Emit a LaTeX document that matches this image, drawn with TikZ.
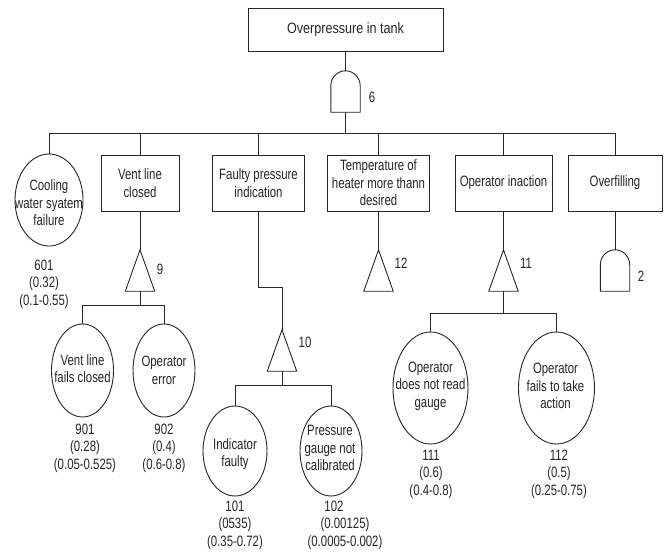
\documentclass[tikz,border=0pt]{standalone}
\usepackage{fontspec}
\usetikzlibrary{shapes.geometric}
\setmainfont{Liberation Sans}[FakeStretch=0.76]
\newfontfamily\headfont{Liberation Sans}[FakeStretch=0.84]

% fault-tree gate outlines drawn on an empty named node
\newcommand\trigate[1]{%
  \draw[line] (#1.south west) -- (#1.north) -- (#1.south east) -- cycle;}
\newcommand\andgate[1]{%
  \draw[line] (#1.south west) -- ([yshift=-15pt]#1.north west)
    .. controls ([yshift=-6.7pt]#1.north west) and ([xshift=-8pt]#1.north) .. (#1.north)
    .. controls ([xshift=8pt]#1.north) and ([yshift=-6.7pt]#1.north east) .. ([yshift=-15pt]#1.north east)
    -- (#1.south east) -- cycle;}

\begin{document}
\begin{tikzpicture}[x=1pt,y=-1pt,
  line/.style={draw=black!85, line width=0.9pt},
  txt/.style={font=\fontsize{15}{17.5}\selectfont, text=black!85, align=center, inner sep=0pt},
  event/.style={txt, draw=black!85, line width=0.9pt, rectangle, minimum height=56pt},
  basic/.style={draw=black!85, line width=0.9pt, ellipse, inner sep=0pt},
  gatebox/.style={inner sep=0pt, minimum width=29pt, minimum height=41pt}
]
\path[fill=white] (0,0) rectangle (665,552);
\useasboundingbox (0,0) rectangle (665,552);

% top event and main AND gate
\node[event, minimum width=195pt, minimum height=43pt,
      font=\headfont\fontsize{15}{17.5}\selectfont] (top) at (345.5,29.5) {Overpressure in tank};
\node[gatebox] (g6) at (345.5,91.5) {};
\andgate{g6}
\node[txt] (l6) at (372,97) {6};
\coordinate (j6) at (345.5,133);
\draw[line] (top.south) -- (g6.north);
\draw[line] (g6.south) -- (j6);

% first level events
\node[basic, minimum width=68pt, minimum height=92pt] (e601) at (49,200) {};
\node[txt] (t601) at (49,203) {Cooling\\water syatem\\failure};
\node[txt] (n601) at (44,284) {601\\(0.32)\\(0.1-0.55)};

\node[event, minimum width=78pt] (vent) at (140,183) {Vent line\\closed};
\node[event, minimum width=92pt] (faulty) at (258.5,183) {Faulty pressure\\indication};
\node[event, minimum width=102pt] (temp) at (378.5,183) {Temperature of\\heater more thann\\desired};
\node[event, minimum width=97pt] (inact) at (503.5,183) {Operator inaction};
\node[event, minimum width=94pt] (overfill) at (615,183) {Overfilling};

\foreach \c in {e601,vent,faulty,temp,inact,overfill}
  \draw[line] (j6) -| (\c.north);

% gates below the first level
\node[gatebox] (g9) at (140,270.5) {};
\trigate{g9}
\node[txt] (l9) at (160,269) {9};

\node[gatebox] (g10) at (282,350.5) {};
\trigate{g10}
\node[txt] (l10) at (305,342) {10};

\node[gatebox] (g12) at (378.5,270.5) {};
\trigate{g12}
\node[txt] (l12) at (401,263) {12};

\node[gatebox] (g11) at (503.5,270.5) {};
\trigate{g11}
\node[txt] (l11) at (526,263) {11};

\node[gatebox] (g2) at (615,270.5) {};
\andgate{g2}
\node[txt] (l2) at (641,276) {2};

\coordinate (k10) at (258.5,287);
\draw[line] (vent.south) -- (g9.north);
\draw[line] (faulty.south) -- (k10) -| (g10.north);
\draw[line] (temp.south) -- (g12.north);
\draw[line] (inact.south) -- (g11.north);
\draw[line] (overfill.south) -- (g2.north);

% basic events under gate 9
\coordinate (j9) at (140,305);
\draw[line] (g9.south) -- (j9);
\node[basic, minimum width=62pt, minimum height=93pt] (e901) at (82.5,370.5) {};
\node[txt] (t901) at (82.5,368.5) {Vent line\\fails closed};
\node[txt] (n901) at (85,448) {901\\(0.28)\\(0.05-0.525)};
\node[basic, minimum width=62pt, minimum height=93pt] (e902) at (164,370.5) {};
\node[txt] (t902) at (164,370.5) {Operator\\error};
\node[txt] (n902) at (164,448) {902\\(0.4)\\(0.6-0.8)};
\draw[line] (j9) -| (e901.north);
\draw[line] (j9) -| (e902.north);

% basic events under gate 10
\coordinate (j10) at (282,385);
\draw[line] (g10.south) -- (j10);
\node[basic, minimum width=64pt, minimum height=90pt] (e101) at (235,451) {};
\node[txt] (t101) at (235,454) {Indicator\\faulty};
\node[txt] (n101) at (235,525) {101\\(0535)\\(0.35-0.72)};
\node[basic, minimum width=62pt, minimum height=90pt] (e102) at (331,451) {};
\node[txt] (t102) at (330,448) {Pressure\\gauge not\\calibrated};
\node[txt] (n102) at (345,525) {102\hspace*{22pt}\\(0.00125)\\(0.0005-0.002)};
\draw[line] (j10) -| (e101.north);
\draw[line] (j10) -| (e102.north);

% basic events under gate 11
\coordinate (j11) at (503.5,313);
\draw[line] (g11.south) -- (j11);
\node[basic, minimum width=75pt, minimum height=112pt] (e111) at (430.5,388) {};
\node[txt] (t111) at (430.5,386) {Operator\\does not read\\gauge};
\node[txt] (n111) at (431,474) {111\\(0.6)\\(0.4-0.8)};
\node[basic, minimum width=76pt, minimum height=112pt] (e112) at (556.5,388) {};
\node[txt] (t112) at (555.5,386) {Operator\\fails to take\\action};
\node[txt] (n112) at (559,474) {112\\(0.5)\\(0.25-0.75)};
\draw[line] (j11) -| (e111.north);
\draw[line] (j11) -| (e112.north);
\end{tikzpicture}
\end{document}
